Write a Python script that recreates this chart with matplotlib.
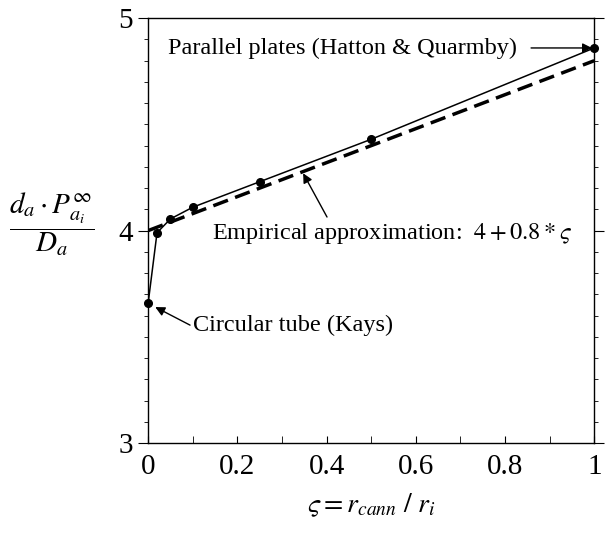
import numpy as np
import matplotlib.pyplot as plt
from matplotlib.ticker import MultipleLocator, FuncFormatter

plt.rcParams['font.family'] = ['Liberation Serif', 'DejaVu Serif']
plt.rcParams['mathtext.fontset'] = 'stix'

# data
zeta = [0.0, 0.02, 0.05, 0.1, 0.25, 0.5, 1.0]
nusselt = [3.657, 3.99, 4.055, 4.11, 4.23, 4.43, 4.86]
approx_x = [0.0, 1.0]
approx_y = [4.0 + 0.8 * z for z in approx_x]


def main():
    fig = plt.figure(figsize=(6.12, 5.36), dpi=100)
    ax = fig.add_axes([0.242, 0.1735, 0.729, 0.7925])

    ax.plot(approx_x, approx_y, color='black', lw=2.5, ls=(0, (4.5, 2.2)))
    ax.plot(zeta, nusselt, color='black', lw=1.1, marker='o', ms=5.5,
            clip_on=False, zorder=3)

    ax.set_xlim(0, 1)
    ax.set_ylim(3, 5)
    ax.xaxis.set_major_locator(MultipleLocator(0.2))
    ax.xaxis.set_minor_locator(MultipleLocator(0.1))
    ax.yaxis.set_major_locator(MultipleLocator(1))
    ax.yaxis.set_minor_locator(MultipleLocator(0.1))
    ax.xaxis.set_major_formatter(FuncFormatter(lambda v, p: '%g' % round(v, 2)))

    ax.tick_params(axis='x', which='both', direction='in', top=False,
                   labelsize=21, pad=8, length=5)
    ax.tick_params(axis='y', which='both', direction='out', left=True,
                   right=True, labelsize=21, pad=4)
    ax.tick_params(axis='y', which='major', length=7)
    ax.tick_params(axis='y', which='minor', length=3)
    for sp in ax.spines.values():
        sp.set_linewidth(1.0)

    ax.set_xlabel(r'$\varsigma = r_{cann}\ /\ r_i$', fontsize=20, labelpad=8)
    fig.text(0.085, 0.582, r'$\dfrac{d_a \cdot P_{a_i}^{\infty}}{D_a}$',
             fontsize=21, ha='center', va='center')

    arrow = dict(arrowstyle='-|>', color='black', lw=1.0,
                 mutation_scale=14, shrinkA=0, shrinkB=0)
    ax.annotate('Parallel plates (Hatton & Quarmby)', xy=(0.995, 4.86),
                xytext=(0.045, 4.86), fontsize=17.5, va='center',
                arrowprops=dict(arrow, shrinkA=8))
    ax.annotate('', xy=(0.3475, 4.27), xytext=(0.401, 4.064),
                arrowprops=arrow)
    ax.text(0.1435, 3.988, r'Empirical approximation:  $4 + 0.8 * \varsigma$',
            fontsize=17.5, va='center')
    ax.annotate('', xy=(0.016, 3.64), xytext=(0.094, 3.555),
                arrowprops=arrow)
    ax.text(0.101, 3.555, 'Circular tube (Kays)', fontsize=17.5,
            va='center')

    fig.savefig('out.png', dpi=100)


if __name__ == '__main__':
    main()
